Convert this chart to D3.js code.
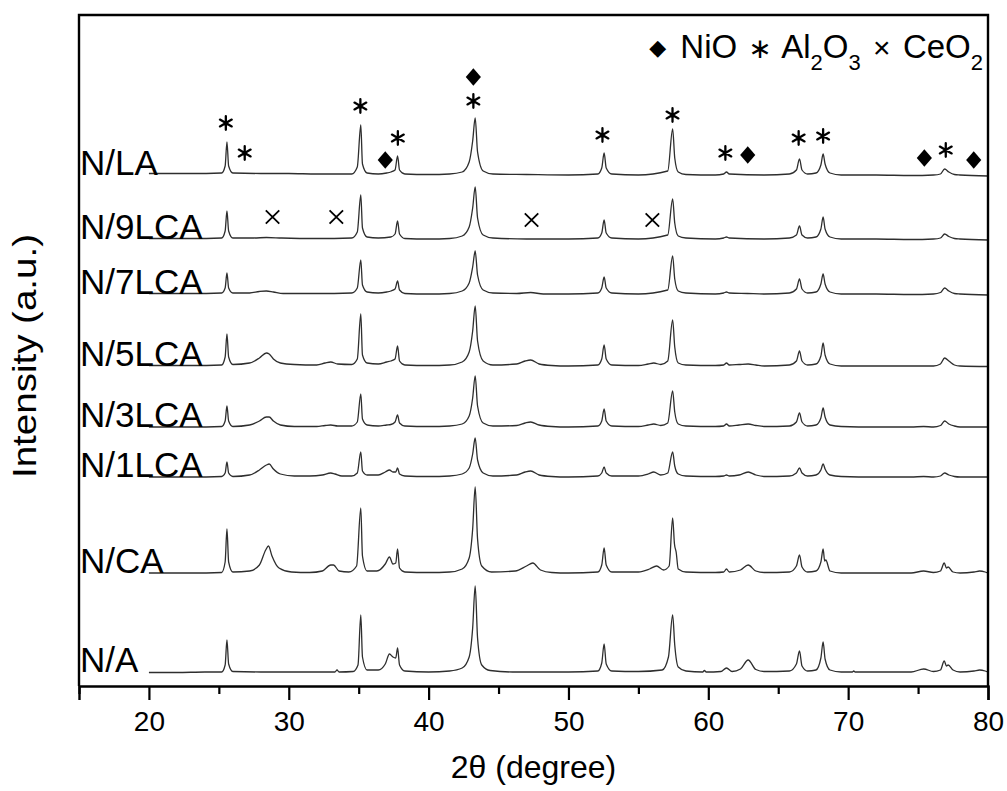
<!DOCTYPE html>
<html>
<head>
<meta charset="utf-8">
<script src="https://cdn.jsdelivr.net/npm/d3@7"></script>
<style>
  html, body { margin: 0; padding: 0; background: #fff; }
  svg { display: block; }
  text { font-family: "Liberation Sans", Arial, Helvetica, sans-serif; fill: #000; }
</style>
</head>
<body>
<svg id="chart" width="1007" height="791"></svg>
<script>
// ---------------- DATA ----------------
const xDomain = [15, 80];
const majorTicks = [20, 30, 40, 50, 60, 70, 80];
const minorTicks = [15, 25, 35, 45, 55, 65, 75];

const seriesNames = ["N/A", "N/CA", "N/1LCA", "N/3LCA", "N/5LCA", "N/7LCA", "N/9LCA", "N/LA"];
const seriesOffsets = [13, 112, 208, 258, 319, 391, 446, 510];

// [2theta, intensity above offset]
const patNA = [[20,0.5],[22,0.5],[24,1],[25.2,1],[25.45,8],[25.58,33],[25.7,9],[26.0,1.5],[28,1],[30,1],[32,1],[33.3,1],[33.45,3],[33.6,1],[34.6,1.5],[34.95,8],[35.15,58],[35.27,16],[35.6,3],[36.4,3],[36.9,9],[37.2,19],[37.45,16],[37.65,15],[37.78,25],[37.92,8],[38.3,2],[40,1],[41.5,2],[42.4,5],[42.9,16],[43.15,45],[43.33,87],[43.5,35],[43.8,8],[44.4,2.5],[46,1],[48,1],[50,1],[52.1,2],[52.38,10],[52.55,29],[52.7,9],[53.1,2],[55,1.5],[56.7,3],[57.15,16],[57.45,58],[57.6,28],[57.85,6],[58.4,2],[59.6,1],[59.72,2.5],[59.85,1],[60.9,1.5],[61.3,5],[61.7,1.5],[62.3,4],[62.85,13],[63.4,3.5],[64,1.5],[65.8,2],[66.3,9],[66.52,22],[66.7,7],[67.1,2],[67.7,3],[68.05,15],[68.21,31],[68.35,14],[68.7,3],[69.5,1],[70.3,1],[70.4,2],[70.5,1],[72,1],[74.5,1],[75.4,4],[76.1,1.5],[76.6,3],[76.87,12],[77.03,7],[77.15,8],[77.5,3],[78,1],[79,2],[79.4,3],[79.8,2],[80,1]];

const patNCA = [[20,1],[23,1],[25.2,1.5],[25.45,12],[25.58,45],[25.7,12],[26.0,2],[27.2,3],[27.9,9],[28.35,24],[28.55,28],[28.8,18],[29.3,6],[30.2,2],[31.5,1.5],[32.4,3],[33.0,9],[33.2,9],[33.6,3],[34.3,2],[34.85,8],[35.15,66],[35.27,18],[35.6,3],[36.3,3],[36.9,10],[37.2,17],[37.45,10],[37.65,11],[37.78,25],[37.92,6],[38.3,2],[40,1.5],[41.5,2],[42.4,5],[42.9,16],[43.15,45],[43.33,87],[43.5,35],[43.8,8],[44.5,2],[46.2,3],[47.0,8],[47.45,11],[48.0,4],[48.8,1.5],[50,1],[52.1,2],[52.38,9],[52.55,26],[52.7,9],[53.1,2],[55,2],[55.8,5],[56.3,8],[56.8,4],[57.2,8],[57.45,56],[57.58,30],[57.7,22],[57.85,5],[58.4,2],[60.5,1.5],[61.1,2],[61.3,5],[61.5,2],[62.3,4],[62.85,9],[63.4,3],[64,1.5],[65.8,2],[66.3,8],[66.52,19],[66.7,7],[67.1,2],[67.7,3],[68.05,12],[68.21,25],[68.32,13],[68.4,14],[68.7,3],[69.5,1],[72,1],[74.5,1],[75.4,3],[76.1,1.5],[76.6,3],[76.87,11],[77.03,6],[77.15,7],[77.5,2],[78,1],[79,2],[79.4,3],[79.8,2],[80,1]];

const patN1LCA = [[20,1],[23,1],[25.2,1.5],[25.45,5],[25.58,16],[25.7,5],[26.0,1.5],[27.2,3],[27.9,8],[28.4,13],[28.6,14],[28.9,9],[29.4,4],[30.4,2],[31.5,2],[32.4,3],[33.0,5],[33.3,4],[33.8,2],[34.5,2],[34.9,5],[35.15,26],[35.27,7],[35.6,3],[36.4,3],[36.9,6],[37.2,8],[37.45,6],[37.65,6],[37.78,10],[37.92,4],[38.3,2],[40,1.5],[41.5,2],[42.4,4],[42.9,10],[43.15,24],[43.33,40],[43.5,18],[43.9,5],[44.6,2],[46.3,3],[46.9,6],[47.3,7],[47.9,3],[48.8,1.5],[50,1],[52.1,2],[52.38,5],[52.55,11],[52.7,5],[53.1,2],[55,2],[55.7,4],[56.1,6],[56.6,3],[57.1,5],[57.45,26],[57.6,12],[57.85,4],[58.4,2],[60.5,1.5],[61.1,2],[61.3,3],[61.5,2],[62.2,3],[62.85,6],[63.4,3],[64,1.5],[65.8,2],[66.3,5],[66.52,10],[66.7,5],[67.1,2],[67.7,3],[68.05,8],[68.21,14],[68.35,9],[68.7,3],[69.5,1.5],[72,1],[74.5,1],[75.4,1.5],[76.1,1],[76.6,2],[76.9,5],[77.2,3],[77.6,1.5],[78,1],[80,1]];

const patN3LCA = [[20,1],[23,1],[25.2,1.5],[25.45,7],[25.58,22],[25.7,7],[26.0,1.5],[27.2,3],[27.9,7],[28.4,11],[28.6,11],[28.9,7],[29.4,3],[30.4,1.5],[32,1.5],[32.6,2.5],[33.0,3],[33.5,2],[34.5,2],[34.9,6],[35.15,34],[35.27,9],[35.6,3],[36.4,2],[37.0,3],[37.3,3.5],[37.6,6],[37.78,13],[37.92,5],[38.3,2],[40,1.5],[41.5,2],[42.4,4],[42.9,12],[43.15,30],[43.33,52],[43.5,22],[43.9,5],[44.6,2],[46.3,2.5],[46.9,5],[47.3,6],[47.9,3],[48.8,1.5],[50,1],[52.1,2],[52.38,7],[52.55,19],[52.7,7],[53.1,2],[55,1.5],[55.7,3],[56.1,4],[56.6,2.5],[57.1,5],[57.45,37],[57.6,16],[57.85,4],[58.4,2],[60.5,1.5],[61.1,2],[61.3,4],[61.5,2],[62.2,3],[62.85,4],[63.4,2.5],[64,1.5],[65.8,2],[66.3,6],[66.52,15],[66.7,6],[67.1,2],[67.7,3],[68.05,10],[68.21,20],[68.35,11],[68.7,3],[69.5,1.5],[72,1],[74.5,1],[75.4,1.5],[76.1,1],[76.6,2.5],[76.9,7],[77.2,4],[77.6,2],[78,1],[80,1]];

const patN5LCA = [[20,1.5],[23,1.5],[25.2,2],[25.45,10],[25.58,33],[25.7,10],[26.0,2.5],[27.2,4],[27.9,9],[28.4,14],[28.6,13],[28.9,8],[29.4,4],[30.4,2.5],[32,2],[32.6,4],[33.0,5],[33.5,3],[34.5,2.5],[34.9,8],[35.15,53],[35.27,12],[35.6,4],[36.4,3],[37.0,5],[37.3,6],[37.6,8],[37.78,21],[37.92,6],[38.3,2],[40,1.5],[41.5,2],[42.4,5],[42.9,15],[43.15,36],[43.33,61],[43.5,26],[43.9,6],[44.6,2],[46.3,3],[46.9,6],[47.3,7],[47.9,3],[48.8,1.5],[50,1],[52.1,2],[52.38,8],[52.55,22],[52.7,8],[53.1,2],[55,1.5],[55.7,3],[56.1,4],[56.6,2.5],[57.1,6],[57.45,47],[57.6,20],[57.85,4],[58.4,2],[60.5,1.5],[61.1,2],[61.3,4],[61.5,2],[62.2,2.5],[62.85,3],[63.4,2],[64,1],[65.8,2],[66.3,6],[66.52,16],[66.7,6],[67.1,2],[67.7,3],[68.05,11],[68.21,24],[68.35,12],[68.7,3],[69.5,1],[72,1],[74.5,1],[76.1,1],[76.6,3],[76.9,9],[77.2,6],[77.6,2],[78,1],[80,0.5]];

const patN7LCA = [[20,1.5],[23,1.5],[25.2,2],[25.45,7],[25.58,22],[25.7,7],[26.0,2],[27.2,2],[27.9,3.5],[28.4,4],[28.9,3],[29.6,1.5],[32,1.5],[34.5,2],[34.9,7],[35.15,35],[35.27,10],[35.6,3],[36.4,2],[37.0,3],[37.3,4],[37.6,6],[37.78,14],[37.92,5],[38.3,1.5],[40,1],[41.5,1.5],[42.4,4],[42.9,12],[43.15,28],[43.33,44],[43.5,20],[43.9,5],[44.6,2],[46.3,1.5],[47.3,2.5],[48.2,1],[50,1],[52.1,2],[52.38,7],[52.55,18],[52.7,7],[53.1,2],[55,1],[57.1,5],[57.45,39],[57.6,16],[57.85,4],[58.4,2],[60.5,1],[61.1,2],[61.3,3],[61.5,2],[62.8,1.5],[64,1],[65.8,2],[66.3,6],[66.52,16],[66.7,6],[67.1,2],[67.7,3],[68.05,11],[68.21,21],[68.35,11],[68.7,3],[69.5,1],[72,1],[74.5,0.5],[76.1,1],[76.6,2.5],[76.9,7],[77.2,4],[77.6,1.5],[78,1],[80,0]];

const patN9LCA = [[20,1.5],[23,1.5],[25.2,2],[25.45,9],[25.58,29],[25.7,9],[26.0,2],[27.5,2],[28.4,2.5],[29.5,2],[32,1.5],[34.5,2],[34.9,8],[35.15,45],[35.27,12],[35.6,3],[36.4,2],[37.3,3],[37.6,6],[37.78,19],[37.92,6],[38.3,1.5],[40,1],[41.5,1.5],[42.4,4],[42.9,13],[43.15,32],[43.33,53],[43.5,22],[43.9,5],[44.6,2],[47,1],[50,1],[52.1,2],[52.38,7],[52.55,20],[52.7,7],[53.1,2],[55,1],[57.1,5],[57.45,41],[57.6,17],[57.85,4],[58.4,2],[60.5,1],[61.1,2],[61.3,3],[61.5,2],[64,1],[65.8,2],[66.3,5],[66.52,14],[66.7,5],[67.1,2],[67.7,3],[68.05,11],[68.21,23],[68.35,11],[68.7,3],[69.5,1],[72,1],[74.5,0.5],[76.1,1],[76.6,2],[76.9,6],[77.2,3.5],[77.6,1.5],[78,1],[80,0]];

const patNLA = [[20,2.5],[23,2.5],[25.2,3],[25.45,10],[25.58,34],[25.7,10],[26.0,3],[28,2.5],[30,2.5],[32,2],[34.5,2],[34.9,9],[35.15,51],[35.27,12],[35.6,3],[36.4,2],[37.0,3],[37.3,4],[37.6,6],[37.78,20],[37.92,6],[38.3,2],[40,1.5],[41.5,2],[42.4,4],[42.9,14],[43.15,35],[43.33,58],[43.5,24],[43.9,5],[44.6,2],[47,1.5],[50,1],[52.1,2],[52.38,8],[52.55,23],[52.7,8],[53.1,2],[55,1],[57.1,5],[57.45,47],[57.6,18],[57.85,4],[58.4,1.5],[60.5,1],[61.1,2],[61.3,4],[61.5,2],[64,1],[65.8,2],[66.3,6],[66.52,17],[66.7,6],[67.1,2],[67.7,3],[68.05,11],[68.21,22],[68.35,12],[68.7,3],[69.5,1],[72,1],[74.5,0.5],[76.1,1],[76.6,2],[76.9,7],[77.2,4],[77.6,1.5],[78,1],[80,0]];

const patterns = [patNA, patNCA, patN1LCA, patN3LCA, patN5LCA, patN7LCA, patN9LCA, patNLA];

// phase markers: [2theta, level]
const al2o3Marks = [[25.5,563],[26.85,533],[35.12,580],[37.8,548],[43.2,585],[52.43,551],[57.44,571],[61.22,533],[66.46,548],[68.21,550],[76.98,536]];
const nioMarks = [[36.9,526],[43.2,609],[62.82,531],[75.45,528],[78.98,526]];
const ceo2Marks = [[28.84,469],[33.4,469],[47.36,466],[56.0,466]];

// ---------------- CHART ----------------
const svg = d3.select("#chart");
const L = 79, R = 988, T = 15, B = 686;
const x = d3.scaleLinear().domain(xDomain).range([L, R]);
const y = d3.scaleLinear().domain([0, 671]).range([B, T]);

// traces
const line = d3.line().x(d => x(d[0])).y(d => y(d[1])).curve(d3.curveMonotoneX);
svg.append("g").selectAll("path").data(patterns).join("path")
  .attr("d", (p, i) => line(p.map(d => [d[0], d[1] + seriesOffsets[i]])))
  .attr("fill", "none").attr("stroke", "#2e2e2e").attr("stroke-width", 1.3)
  .attr("stroke-linejoin", "round");

// series labels
svg.append("g").selectAll("text").data(seriesNames).join("text")
  .attr("x", 80).attr("y", (d, i) => y(seriesOffsets[i]) - 1.5)
  .attr("font-size", 35).text(d => d);

// frame (left, top, right)
const frame = d3.path();
frame.moveTo(L, B); frame.lineTo(L, T); frame.lineTo(R, T); frame.lineTo(R, B);
svg.append("path").attr("d", frame.toString())
  .attr("fill", "none").attr("stroke", "#000").attr("stroke-width", 2.4);

// x axis
const ax = svg.append("g").attr("transform", `translate(0,${B})`)
  .call(d3.axisBottom(x).tickValues(majorTicks).tickSize(14).tickPadding(11).tickFormat(d3.format("d")));
ax.select(".domain").attr("stroke-width", 2.4);
ax.selectAll(".tick line").attr("stroke-width", 2.2);
ax.selectAll("text").attr("font-size", 28).attr("font-family", '"Liberation Sans", Arial, sans-serif');
const axm = svg.append("g").attr("transform", `translate(0,${B})`)
  .call(d3.axisBottom(x).tickValues(minorTicks).tickSize(8).tickFormat(""));
axm.select(".domain").remove();
axm.selectAll(".tick line").attr("stroke-width", 2.2);

// axis titles
svg.append("text").attr("x", (L + R) / 2).attr("y", 778).attr("text-anchor", "middle")
  .attr("font-size", 32).text("2θ (degree)");
svg.append("text").attr("transform", `translate(36,356) rotate(-90)`).attr("text-anchor", "middle")
  .attr("font-size", 33).attr("textLength", 244).attr("lengthAdjust", "spacingAndGlyphs")
  .text("Intensity (a.u.)");

// markers
const ast = d3.symbol().type(d3.symbolAsterisk).size(130);
svg.append("g").selectAll("path").data(al2o3Marks).join("path")
  .attr("d", ast).attr("transform", d => `translate(${x(d[0])},${y(d[1])})`)
  .attr("fill", "none").attr("stroke", "#000").attr("stroke-width", 2.3).attr("stroke-linecap", "round");
const dia = d3.symbol().type(d3.symbolSquare).size(115);
svg.append("g").selectAll("path").data(nioMarks).join("path")
  .attr("d", dia).attr("transform", d => `translate(${x(d[0])},${y(d[1])}) scale(1,1.15) rotate(45)`)
  .attr("fill", "#000");
const tim = d3.symbol().type(d3.symbolTimes).size(120);
svg.append("g").selectAll("path").data(ceo2Marks).join("path")
  .attr("d", tim).attr("transform", d => `translate(${x(d[0])},${y(d[1])})`)
  .attr("fill", "none").attr("stroke", "#000").attr("stroke-width", 1.8);

// legend
const leg = svg.append("text").attr("x", 983).attr("y", 58).attr("text-anchor", "end")
  .attr("font-size", 33).style("white-space", "pre");
const parts = [
  ["◆", {fs: 22, fam: "DejaVu Sans", dy: -3}],
  [" NiO ", {dy: 3, dx: 5}],
  ["∗", {fs: 28, fam: "DejaVu Sans", dx: 2}],
  [" Al", {dx: 2}],
  ["2", {fs: 22, dy: 12}],
  ["O", {dy: -12}],
  ["3", {fs: 22, dy: 12}],
  [" × ", {dy: -12, fs: 30, dx: 4}],
  ["CeO", {dx: 4}],
  ["2", {fs: 22, dy: 12}]
];
parts.forEach(([t, o]) => {
  const ts = leg.append("tspan").text(t);
  if (o.fs) ts.attr("font-size", o.fs);
  if (o.fam) ts.attr("font-family", o.fam);
  if (o.dy) ts.attr("dy", o.dy);
  if (o.dx) ts.attr("dx", o.dx);
});
</script>
</body>
</html>
